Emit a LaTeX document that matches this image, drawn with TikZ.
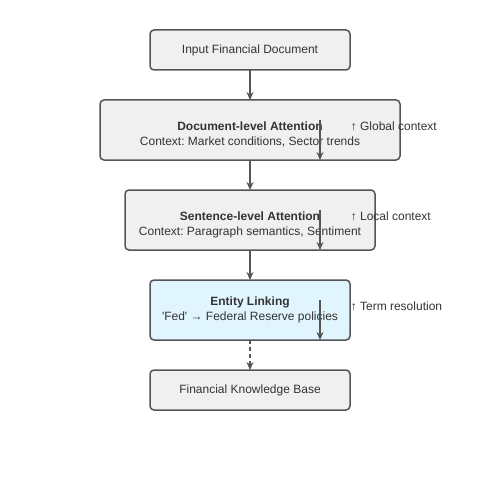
\documentclass[tikz,border=0pt]{standalone}
\usepackage{fontspec}
\setmainfont{Liberation Sans}
\usetikzlibrary{arrows.meta, positioning}
\definecolor{boxfill}{HTML}{F0F0F0}
\definecolor{linkfill}{HTML}{E1F5FE}
\definecolor{edgegray}{HTML}{555555}
\definecolor{textgray}{HTML}{333333}
\frenchspacing
\newcommand{\twoline}[3][-4.5pt]{\raisebox{#1}[\height][\depth]{\begin{tabular}{@{}c@{}}\textbf{#2}\\#3\end{tabular}}}

\begin{document}
\begin{tikzpicture}[x=1pt,y=1pt,->,>={Stealth[length=8pt,width=7pt]},
  line width=1.5pt,draw=edgegray,node distance=30pt,
  box/.style={rectangle,rounded corners=4pt,draw=edgegray,fill=boxfill,
    text=textgray,font=\fontsize{12}{15}\selectfont,align=center,
    inner sep=0pt,outer sep=0pt},
  note/.style={text=textgray,font=\fontsize{12}{15}\selectfont,anchor=west,inner sep=0pt}]

  \useasboundingbox (0,0) rectangle (500,-500);

  \node[box,minimum width=200pt,minimum height=40pt] (input) at (250,-50) {Input Financial Document};
  \node[box,minimum width=300pt,minimum height=60pt,below=of input] (doc)
    {\twoline{Document-level Attention}{Context: Market conditions, Sector trends}};
  \node[box,minimum width=250pt,minimum height=60pt,below=of doc] (sent)
    {\twoline{Sentence-level Attention}{Context: Paragraph semantics, Sentiment}};
  \node[box,fill=linkfill,minimum width=200pt,minimum height=60pt,below=of sent] (link)
    {\twoline[0.5pt]{Entity Linking}{\textquotesingle Fed\textquotesingle\ → Federal Reserve policies}};
  \node[box,minimum width=200pt,minimum height=40pt,below=of link] (kb) {Financial Knowledge Base};

  % main flow
  \draw (input) -- (doc);
  \draw (doc) -- (sent);
  \draw (sent) -- (link);
  \draw[dash pattern=on 4pt off 3pt] (link) -- (kb);

  % context arrows
  \foreach \b/\t in {doc/Global context, sent/Local context, link/Term resolution} {
    \coordinate (\b Top) at ([xshift=70pt,yshift=40pt]\b.south);
    \coordinate (\b Bot) at ([xshift=70pt]\b.south);
    \draw (\b Top) -- (\b Bot);
    \node[note] (\b Note) at ([xshift=100pt,yshift=4pt]\b.center) {↑ \t};
  }
\end{tikzpicture}
\end{document}
